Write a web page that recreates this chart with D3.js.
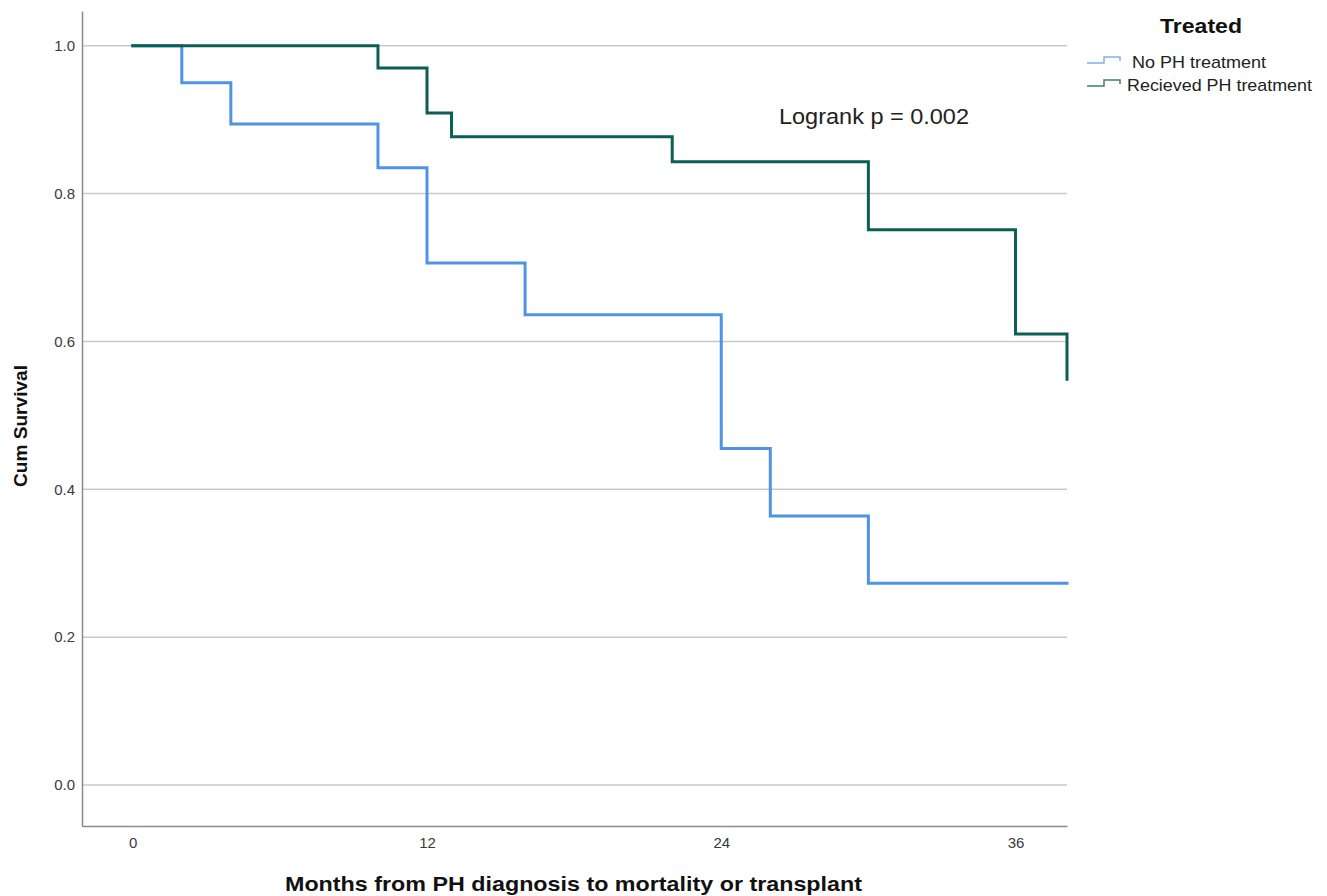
<!DOCTYPE html>
<html>
<head>
<meta charset="utf-8">
<script src="https://cdn.jsdelivr.net/npm/d3@7"></script>
<style>
  body { margin: 0; background: #fff; }
  text { font-family: "Liberation Sans", Arial, sans-serif; }
</style>
</head>
<body>
<svg id="chart" width="1327" height="896"></svg>
<script>
// survival steps (months, cum survival)
var untreatedTimes = [0, 2, 4, 10, 12, 16, 24, 26, 30, 38.1];
var untreatedSurv  = [1.0, 0.950, 0.894, 0.835, 0.706, 0.636, 0.455, 0.364, 0.273, 0.273];
var treatedTimes = [0, 10, 12, 13, 22, 30, 36, 38.1];
var treatedSurv  = [1.0, 0.970, 0.909, 0.877, 0.843, 0.751, 0.610, 0.549];
var groupNames = ["No PH treatment", "Recieved PH treatment"];
var xTicks = [0, 12, 24, 36];
var yTicks = [0.0, 0.2, 0.4, 0.6, 0.8, 1.0];

var svg = d3.select("#chart");
var plotLeft = 82, plotRight = 1067, plotTop = 11, plotBottom = 826;

var x = d3.scaleLinear().domain([-2.07, 38.1]).range([plotLeft, plotRight]);
var y = d3.scaleLinear().domain([-0.0555, 1.047]).range([plotBottom, plotTop]);

// grid lines
svg.append("g").selectAll("line")
    .data(yTicks)
    .enter().append("line")
    .attr("x1", plotLeft).attr("x2", plotRight)
    .attr("y1", function (d) { return y(d); })
    .attr("y2", function (d) { return y(d); })
    .attr("stroke", "#c9c9c9")
    .attr("stroke-width", 1.5);

// y axis
var yAxis = svg.append("g")
    .attr("transform", "translate(" + plotLeft + ",0)")
    .call(d3.axisLeft(y).tickValues(yTicks).tickFormat(d3.format(".1f")).tickSize(0).tickPadding(7));
yAxis.select(".domain").attr("stroke", "#8a8a8a").attr("stroke-width", 1.5);
yAxis.selectAll("text").attr("font-size", 15).attr("fill", "#3a3a3a")
    .style("font-family", "'Liberation Sans', Arial, sans-serif");

// x axis
var xAxis = svg.append("g")
    .attr("transform", "translate(0," + plotBottom + ")")
    .call(d3.axisBottom(x).tickValues(xTicks).tickSize(0).tickPadding(11));
xAxis.select(".domain").attr("stroke", "#8a8a8a").attr("stroke-width", 1.5);
xAxis.selectAll("text").attr("font-size", 15).attr("fill", "#3a3a3a")
    .style("font-family", "'Liberation Sans', Arial, sans-serif");

// step curves
var line = d3.line()
    .x(function (d) { return x(d[0]); })
    .y(function (d) { return y(d[1]); })
    .curve(d3.curveStepAfter);

var curves = [
    { pts: d3.zip(untreatedTimes, untreatedSurv), color: "#4f93e6" },
    { pts: d3.zip(treatedTimes, treatedSurv), color: "#0c5f55" }
];

svg.append("g").selectAll("path")
    .data(curves)
    .enter().append("path")
    .attr("d", function (d) { return line(d.pts); })
    .attr("fill", "none")
    .attr("stroke", function (d) { return d.color; })
    .attr("stroke-width", 3)
    .attr("stroke-linejoin", "miter")
    .attr("stroke-linecap", "square");

// axis titles
svg.append("text")
    .attr("x", 285).attr("y", 891)
    .attr("font-size", 21).attr("font-weight", "bold").attr("fill", "#111")
    .attr("textLength", 577).attr("lengthAdjust", "spacingAndGlyphs")
    .text("Months from PH diagnosis to mortality or transplant");

svg.append("text")
    .attr("transform", "translate(27,487) rotate(-90)")
    .attr("font-size", 19).attr("font-weight", "bold").attr("fill", "#111")
    .attr("textLength", 122).attr("lengthAdjust", "spacingAndGlyphs")
    .text("Cum Survival");

// logrank annotation
svg.append("text")
    .attr("x", 779).attr("y", 124)
    .attr("font-size", 21.5).attr("fill", "#222")
    .attr("textLength", 190).attr("lengthAdjust", "spacingAndGlyphs")
    .text("Logrank p = 0.002");

// legend
svg.append("text")
    .attr("x", 1160).attr("y", 33)
    .attr("font-size", 20).attr("font-weight", "bold").attr("fill", "#111")
    .attr("textLength", 82).attr("lengthAdjust", "spacingAndGlyphs")
    .text("Treated");

var legendColors = ["#7fb0ea", "#3d7f72"];
var legendText = [{ x: 45, w: 134 }, { x: 40, w: 185 }];
var leg = svg.append("g").selectAll("g")
    .data(groupNames)
    .enter().append("g")
    .attr("transform", function (d, i) { return "translate(1087," + (63 + i * 23) + ")"; });

leg.append("path")
    .attr("d", "M0,0 H17 V-6 H33 V-2")
    .attr("fill", "none")
    .attr("stroke", function (d, i) { return legendColors[i]; })
    .attr("stroke-width", 1.5);

leg.append("text")
    .attr("x", function (d, i) { return legendText[i].x; })
    .attr("y", 5)
    .attr("font-size", 17).attr("fill", "#222")
    .attr("textLength", function (d, i) { return legendText[i].w; })
    .attr("lengthAdjust", "spacingAndGlyphs")
    .text(function (d) { return d; });
</script>
</body>
</html>
